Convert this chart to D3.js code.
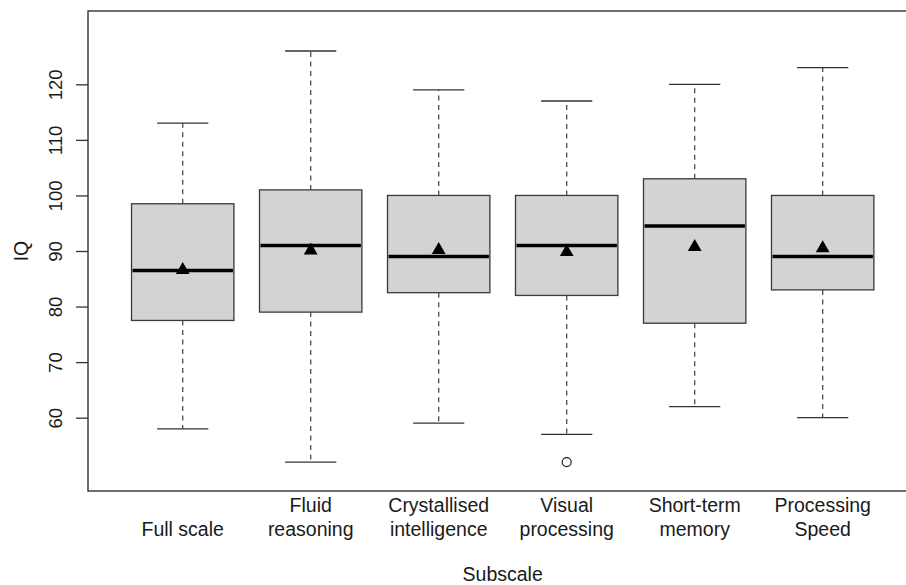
<!DOCTYPE html>
<html>
<head>
<meta charset="utf-8">
<script src="https://cdn.jsdelivr.net/npm/d3@7"></script>
<style>
  html, body { margin: 0; padding: 0; background: #fff; }
  svg { display: block; font-family: "Liberation Sans", Arial, sans-serif; }
</style>
</head>
<body>
<svg id="chart" width="906" height="585"></svg>
<script>
// Subscale summaries (five-number boxes, means, outliers)
const categories = ["Full scale", "Fluid reasoning", "Crystallised intelligence",
                    "Visual processing", "Short-term memory", "Processing Speed"];
const labelLines = [["Full scale"], ["Fluid", "reasoning"], ["Crystallised", "intelligence"],
                    ["Visual", "processing"], ["Short-term", "memory"], ["Processing", "Speed"]];
const whiskerLow  = [58, 52, 59, 57, 62, 60];
const q1          = [77.5, 79, 82.5, 82, 77, 83];
const median      = [86.5, 91, 89, 91, 94.5, 89];
const q3          = [98.5, 101, 100, 100, 103, 100];
const whiskerHigh = [113, 126, 119, 117, 120, 123];
const means       = [86.6, 90.1, 90.2, 89.8, 90.7, 90.5];
const outlierGroup = [3];
const outlierValue = [52];
const yTicks = [60, 70, 80, 90, 100, 110, 120];

const svg = d3.select("#chart");

// Plot region; the right edge runs past the page
const plot = { left: 88, top: 11, right: 917.4, bottom: 491 };

const x = d3.scaleLinear().domain([0.26, 6.74]).range([plot.left, plot.right]);
const y = d3.scaleLinear().domain([46.8, 133.2]).range([plot.bottom, plot.top]);

const boxHalf = 0.4;   // half box width, in category units
const capHalf = 0.2;   // half whisker cap width

const data = categories.map((c, i) => ({
  i, pos: i + 1, lo: whiskerLow[i], q1: q1[i], med: median[i],
  q3: q3[i], hi: whiskerHigh[i], mean: means[i]
}));

const g = svg.append("g");

// Whiskers (dashed)
const whiskerStyle = s => s.attr("stroke", "#4d4d4d").attr("stroke-width", 1.3)
  .attr("stroke-dasharray", "5,4.5").attr("fill", "none");
g.selectAll(".wh-up").data(data).join("line")
  .attr("x1", d => x(d.pos)).attr("x2", d => x(d.pos))
  .attr("y1", d => y(d.q3)).attr("y2", d => y(d.hi)).call(whiskerStyle);
g.selectAll(".wh-lo").data(data).join("line")
  .attr("x1", d => x(d.pos)).attr("x2", d => x(d.pos))
  .attr("y1", d => y(d.q1)).attr("y2", d => y(d.lo)).call(whiskerStyle);

// Whisker caps
const capStyle = s => s.attr("stroke", "#333").attr("stroke-width", 1.3);
g.selectAll(".cap-up").data(data).join("line")
  .attr("x1", d => x(d.pos - capHalf)).attr("x2", d => x(d.pos + capHalf))
  .attr("y1", d => y(d.hi)).attr("y2", d => y(d.hi)).call(capStyle);
g.selectAll(".cap-lo").data(data).join("line")
  .attr("x1", d => x(d.pos - capHalf)).attr("x2", d => x(d.pos + capHalf))
  .attr("y1", d => y(d.lo)).attr("y2", d => y(d.lo)).call(capStyle);

// Boxes
g.selectAll(".box").data(data).join("rect")
  .attr("x", d => x(d.pos - boxHalf))
  .attr("width", d => x(d.pos + boxHalf) - x(d.pos - boxHalf))
  .attr("y", d => y(d.q3))
  .attr("height", d => y(d.q1) - y(d.q3))
  .attr("fill", "#d3d3d3").attr("stroke", "#3a3a3a").attr("stroke-width", 1.3);

// Medians
g.selectAll(".med").data(data).join("line")
  .attr("x1", d => x(d.pos - boxHalf) + 1).attr("x2", d => x(d.pos + boxHalf) - 1)
  .attr("y1", d => y(d.med)).attr("y2", d => y(d.med))
  .attr("stroke", "#000").attr("stroke-width", 3.6);

// Means (filled triangles)
const tri = d3.symbol().type(d3.symbolTriangle).size(83);
g.selectAll(".mean").data(data).join("path")
  .attr("d", tri)
  .attr("transform", d => `translate(${x(d.pos)},${y(d.mean)})`)
  .attr("fill", "#000");

// Outliers (open circles)
g.selectAll(".out").data(outlierGroup.map((gi, k) => ({ pos: gi + 1, v: outlierValue[k] })))
  .join("circle")
  .attr("cx", d => x(d.pos)).attr("cy", d => y(d.v)).attr("r", 4.5)
  .attr("fill", "none").attr("stroke", "#222").attr("stroke-width", 1.2);

// Plot frame
svg.append("rect")
  .attr("x", plot.left).attr("y", plot.top)
  .attr("width", plot.right - plot.left).attr("height", plot.bottom - plot.top)
  .attr("fill", "none").attr("stroke", "#333").attr("stroke-width", 1.4);

// Y axis
const yAxis = svg.append("g")
  .attr("transform", `translate(${plot.left},0)`)
  .call(d3.axisLeft(y).tickValues(yTicks).tickSize(12).tickFormat(d3.format("d")));
yAxis.select(".domain").remove();
yAxis.selectAll(".tick line").attr("stroke", "#333").attr("stroke-width", 1.3);
yAxis.selectAll(".tick text")
  .attr("x", null).attr("dy", null)
  .attr("transform", "translate(-26.5,0) rotate(-90)")
  .attr("text-anchor", "middle")
  .attr("font-size", 18.5).attr("fill", "#1a1a1a")
  .attr("font-family", "Liberation Sans, Arial, sans-serif");

// Category labels, bottom-aligned lines
const lineGap = 24;
const lastBaseline = 535.5;
const lab = svg.append("g");
labelLines.forEach((lines, i) => {
  const t = lab.append("text")
    .attr("text-anchor", "middle").attr("font-size", 19.5).attr("fill", "#1a1a1a");
  lines.forEach((ln, k) => {
    t.append("tspan")
      .attr("x", x(i + 1))
      .attr("y", lastBaseline - (lines.length - 1 - k) * lineGap)
      .text(ln);
  });
});

// Axis titles
svg.append("text")
  .attr("x", 502.7).attr("y", 581)
  .attr("text-anchor", "middle").attr("font-size", 19.5).attr("fill", "#1a1a1a")
  .text("Subscale");
svg.append("text")
  .attr("transform", `translate(28,${(plot.top + plot.bottom) / 2}) rotate(-90)`)
  .attr("text-anchor", "middle").attr("font-size", 19.5).attr("fill", "#1a1a1a")
  .text("IQ");
</script>
</body>
</html>
